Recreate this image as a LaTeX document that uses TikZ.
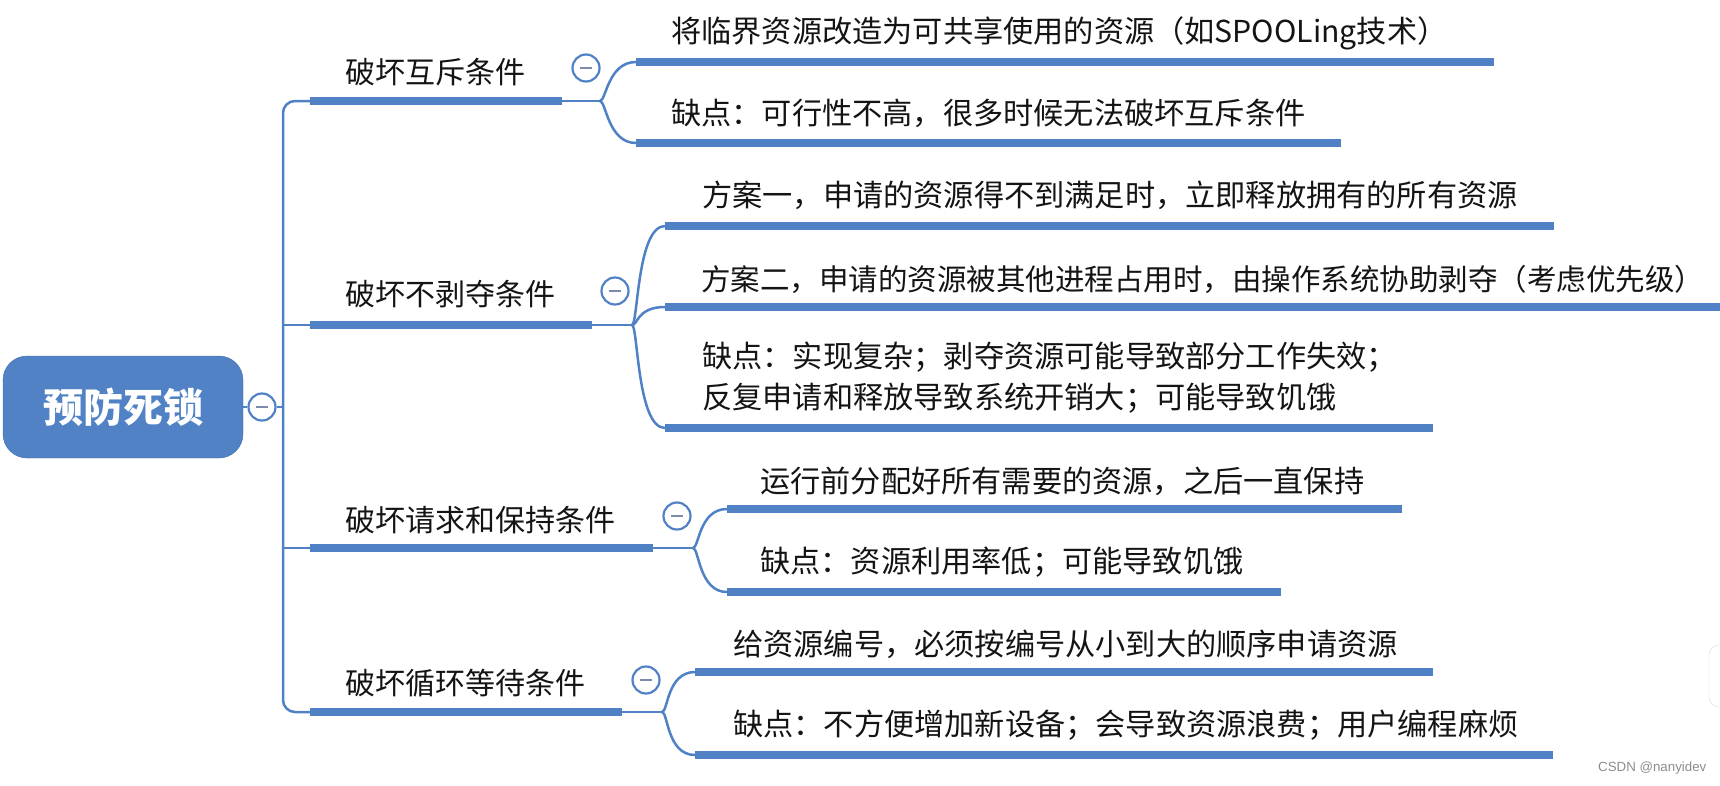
\documentclass[tikz,border=0pt]{standalone}
\usepackage{fontspec}
\setmainfont{Noto Sans CJK SC}
\newfontfamily\marksans{Liberation Sans}
\usetikzlibrary{positioning}
\definecolor{mapblue}{RGB}{79,129,196}
\definecolor{rootblue}{RGB}{81,130,197}
\definecolor{togglegrey}{RGB}{125,138,172}

\begin{document}
\begin{tikzpicture}[x=1pt, y=-1pt,
    topic/.style={anchor=west, inner sep=0pt, text=black!92,
        font=\fontsize{30}{36}\selectfont},
    leaf/.style={anchor=west, inner sep=0pt, text=black!92, align=left,
        font=\fontsize{30.2}{41}\selectfont},
    bar/.style={mapblue, line width=8pt},
    link/.style={mapblue, line width=2.5pt},
    toggle/.style={circle, draw=mapblue, line width=2.2pt, fill=white,
        minimum size=27pt, inner sep=0pt,
        path picture={\draw[togglegrey, line width=2.5pt]
            ([xshift=-6pt]path picture bounding box.center) --
            ([xshift=6pt]path picture bounding box.center);}}]
    \useasboundingbox (0,0) rectangle (1720,785);
    \clip (0,0) rectangle (1720,785);

    % root
    \node[draw=rootblue!85!black, fill=rootblue, rounded corners=24pt,
        minimum width=240pt, minimum height=102pt, text=white,
        font=\fontsize{40}{40}\selectfont\bfseries] (root) at (123,407) {预防死锁};
    \node[toggle] (t0) at (262,407) {};
    \coordinate (hub) at (283,407);
    \draw[link] (root) -- (t0);
    \draw[link] (t0) -- (hub);

    % branch starts, ends and forks
    \coordinate (excl-l) at (310,101);
    \coordinate (excl-r) at (562,101);
    \coordinate (excl-f) at (600,101);
    \coordinate (pre-l) at (310,325);
    \coordinate (pre-r) at (592,325);
    \coordinate (pre-f) at (632,325);
    \coordinate (hold-l) at (310,548);
    \coordinate (hold-r) at (653,548);
    \coordinate (hold-f) at (693,548);
    \coordinate (wait-l) at (310,712);
    \coordinate (wait-r) at (622,712);
    \coordinate (wait-f) at (662,712);

    % trunk
    \draw[link, rounded corners=12pt] (excl-l) -| (hub) |- (wait-l);
    \draw[link] (hub |- pre-l) -- (pre-l);
    \draw[link] (hub |- hold-l) -- (hold-l);

    % branches
    \node[topic] (excl) at (345,72) {破坏互斥条件};
    \node[topic] (pre) at (345,294) {破坏不剥夺条件};
    \node[topic] (hold) at (345,520) {破坏请求和保持条件};
    \node[topic] (wait) at (345,683) {破坏循环等待条件};
    \foreach \b in {excl, pre, hold, wait} {
        \draw[bar] (\b-l) -- (\b-r);
        \draw[link] (\b-r) -- (\b-f);
    }
    \node[toggle] (t1) at (586,68) {};
    \node[toggle] (t2) at (615,291) {};
    \node[toggle] (t3) at (677,516) {};
    \node[toggle] (t4) at (646,680) {};

    % leaves
    \node[leaf] (excl1) at (671,33) {将临界资源改造为可共享使用的资源（如SPOOLing技术）};
    \node[leaf] (excl2) at (671,113) {缺点：可行性不高，很多时候无法破坏互斥条件};
    \node[leaf] (pre1) at (702,195) {方案一，申请的资源得不到满足时，立即释放拥有的所有资源};
    \node[leaf, font=\fontsize{29.5}{41}\selectfont] (pre2) at (701,279) {方案二，申请的资源被其他进程占用时，由操作系统协助剥夺（考虑优先级）\kern-0.5em};
    \node[leaf] (pre3) at (702,378) {缺点：实现复杂；剥夺资源可能导致部分工作失效；\\反复申请和释放导致系统开销大；可能导致饥饿};
    \node[leaf] (hold1) at (760,481) {运行前分配好所有需要的资源，之后一直保持};
    \node[leaf] (hold2) at (760,562) {缺点：资源利用率低；可能导致饥饿};
    \node[leaf] (wait1) at (733,644) {给资源编号，必须按编号从小到大的顺序申请资源};
    \node[leaf] (wait2) at (733,725) {缺点：不方便增加新设备；会导致资源浪费；用户编程麻烦};

    % leaf underlines
    \coordinate (excl1-l) at (636,62);   \coordinate (excl1-r) at (1494,62);
    \coordinate (excl2-l) at (636,143);  \coordinate (excl2-r) at (1341,143);
    \coordinate (pre1-l) at (665,226);   \coordinate (pre1-r) at (1554,226);
    \coordinate (pre2-l) at (665,307);   \coordinate (pre2-r) at (1725,307);
    \coordinate (pre3-l) at (665,428);   \coordinate (pre3-r) at (1433,428);
    \coordinate (hold1-l) at (727,509);  \coordinate (hold1-r) at (1402,509);
    \coordinate (hold2-l) at (727,592);  \coordinate (hold2-r) at (1281,592);
    \coordinate (wait1-l) at (695,672);  \coordinate (wait1-r) at (1433,672);
    \coordinate (wait2-l) at (695,755);  \coordinate (wait2-r) at (1553,755);
    \foreach \b/\f in {excl1/excl, excl2/excl, pre1/pre, pre2/pre, pre3/pre,
                       hold1/hold, hold2/hold, wait1/wait, wait2/wait} {
        \draw[link] (\f-f) .. controls +(6,0) and +(-28,0) .. (\b-l);
        \draw[bar] (\b-l) -- (\b-r);
    }

    % screen edge and mark
    \draw[black!15, fill=white, rounded corners=10pt] (1709,645) rectangle (1750,707);
    \node[anchor=west, inner sep=0pt, text=black!45,
        font=\marksans\fontsize{13.3}{14}\selectfont] (mark) at (1598,768) {CSDN @nanyidev};
\end{tikzpicture}
\end{document}
